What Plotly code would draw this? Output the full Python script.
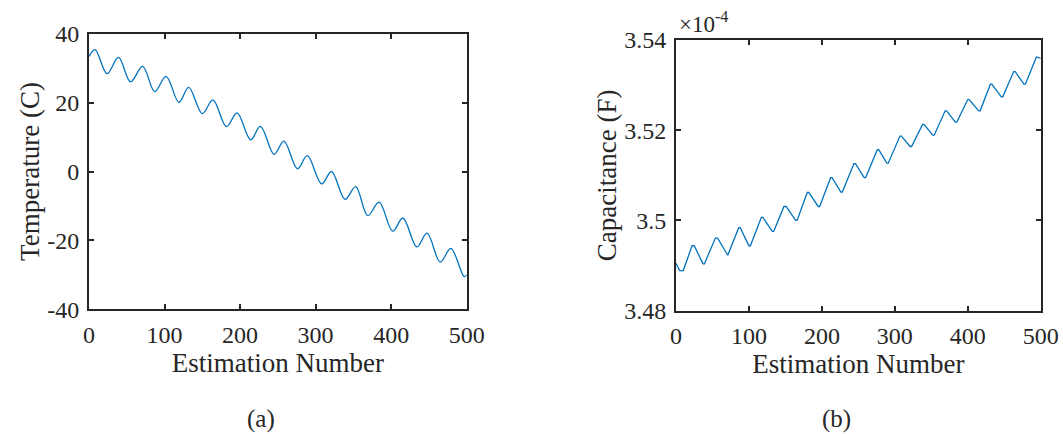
import plotly.graph_objects as go

# Panel (a): temperature estimate, turning points of the oscillation
temp_x = [0, 8, 24, 39, 55, 71, 87, 102, 119, 132, 150, 164, 182, 196, 214, 227,
          245, 258, 276, 289, 308, 321, 339, 353, 369, 384, 402, 415.5, 434,
          447.5, 465, 479, 496.5, 500]
temp_c = [33.4, 35.4, 28.4, 33.1, 26.0, 30.5, 23.2, 27.6, 20.1, 24.4, 16.8, 20.8,
          13.0, 17.0, 9.2, 13.1, 5.0, 8.8, 0.8, 4.6, -3.6, 0.0, -8.1, -4.4,
          -12.8, -8.9, -17.3, -13.5, -21.9, -17.9, -26.3, -22.3, -30.5, -30.0]

# Panel (b): capacitance estimate (units of 1e-4 F), vertices incl. flat tops
cap_x = [0, 5, 10, 22, 25, 37, 39, 54, 57, 70, 71, 86, 88, 100, 102, 117, 119,
         132, 134, 148, 151, 164, 166, 180, 182, 195, 197, 212, 214, 226, 228,
         244, 246, 258, 260, 276, 278, 289, 291, 307, 309, 321, 323, 338, 340,
         352, 354, 369, 371, 383, 385, 400, 402, 415, 417, 431, 433, 446, 448,
         463, 465, 477, 479, 494, 496, 500]
cap_f = [3.4905, 3.4889, 3.4889, 3.4944, 3.4944, 3.4904, 3.4904, 3.4961, 3.4961,
         3.4923, 3.4923, 3.4984, 3.4984, 3.4944, 3.4944, 3.5007, 3.5007,
         3.4976, 3.4976, 3.5031, 3.5031, 3.5000, 3.5000, 3.5062, 3.5062,
         3.5031, 3.5031, 3.5095, 3.5095, 3.5063, 3.5063, 3.5126, 3.5126,
         3.5095, 3.5095, 3.5157, 3.5157, 3.5127, 3.5127, 3.5187, 3.5187,
         3.5164, 3.5164, 3.5213, 3.5213, 3.5189, 3.5189, 3.5243, 3.5243,
         3.5218, 3.5218, 3.5268, 3.5268, 3.5243, 3.5243, 3.5302, 3.5302,
         3.5274, 3.5274, 3.5330, 3.5330, 3.5302, 3.5302, 3.5362, 3.5362, 3.5359]

x_ticks = [0, 100, 200, 300, 400, 500]
x_labels = ["0", "100", "200", "300", "400", "500"]
temp_ticks = [-40, -20, 0, 20, 40]
temp_labels = ["-40", "-20", "0", "20", "40"]
cap_ticks = [3.48, 3.50, 3.52, 3.54]
cap_labels = ["3.48", "3.5", "3.52", "3.54"]

W, H = 1063, 434
FONT = "Liberation Serif, Times New Roman, serif"
INK = "#262626"
BLUE = "#0072BD"
TICK_SIZE = 24
TITLE_SIZE = 27

fig = go.Figure()
fig.add_trace(go.Scatter(x=temp_x, y=temp_c, mode="lines",
                         line=dict(color=BLUE, width=1.3, shape="spline", smoothing=1),
                         xaxis="x", yaxis="y", showlegend=False, hoverinfo="skip"))
fig.add_trace(go.Scatter(x=cap_x, y=cap_f, mode="lines",
                         line=dict(color=BLUE, width=1.3),
                         xaxis="x2", yaxis="y2", showlegend=False, hoverinfo="skip"))


def px_x(p):
    return p / W


def px_y(p):
    return 1 - p / H


axis_common = dict(showgrid=False, zeroline=False, showline=True, linecolor=INK,
                   linewidth=1.8, mirror="ticks", ticks="inside", ticklen=5,
                   tickwidth=1.8, tickcolor=INK, automargin=False,
                   tickfont=dict(family=FONT, size=TICK_SIZE, color=INK))


def title(text, standoff):
    return dict(text=text, font=dict(size=TITLE_SIZE, family=FONT, color=INK),
                standoff=standoff)


fig.update_layout(
    template="none",
    width=W, height=H, margin=dict(l=0, r=0, t=0, b=0, autoexpand=False),
    paper_bgcolor="white", plot_bgcolor="white",
    font=dict(family=FONT, color=INK),
    xaxis=dict(domain=[px_x(89), px_x(466.7)], range=[0, 500], anchor="y",
               tickvals=x_ticks, ticktext=x_labels, ticklabelstandoff=3,
               title=title("Estimation Number", 4), **axis_common),
    yaxis=dict(domain=[px_y(309.3), px_y(33.7)], range=[-40, 40], anchor="x",
               tickvals=temp_ticks, ticktext=temp_labels, ticklabelstandoff=3,
               title=title("Temperature (C)", 0), **axis_common),
    xaxis2=dict(domain=[px_x(676), px_x(1040.7)], range=[0, 500], anchor="y2",
                tickvals=x_ticks, ticktext=x_labels, ticklabelstandoff=3,
                title=title("Estimation Number", 4), **axis_common),
    yaxis2=dict(domain=[px_y(310.7), px_y(40)], range=[3.48, 3.54], anchor="x2",
                tickvals=cap_ticks, ticktext=cap_labels, ticklabelstandoff=3,
                title=title("Capacitance (F)", 0), **axis_common),
)

fig.add_annotation(text="×10<sup>-4</sup>", xref="paper", yref="paper",
                   x=px_x(677), y=px_y(39), xanchor="left", yanchor="bottom",
                   showarrow=False, font=dict(family=FONT, size=23, color=INK))
fig.add_annotation(text="(a)", xref="paper", yref="paper",
                   x=px_x(261), y=px_y(419), xanchor="center", yanchor="middle",
                   showarrow=False, font=dict(family=FONT, size=25, color=INK))
fig.add_annotation(text="(b)", xref="paper", yref="paper",
                   x=px_x(836), y=px_y(419), xanchor="center", yanchor="middle",
                   showarrow=False, font=dict(family=FONT, size=25, color=INK))

fig.write_html("out.html")
